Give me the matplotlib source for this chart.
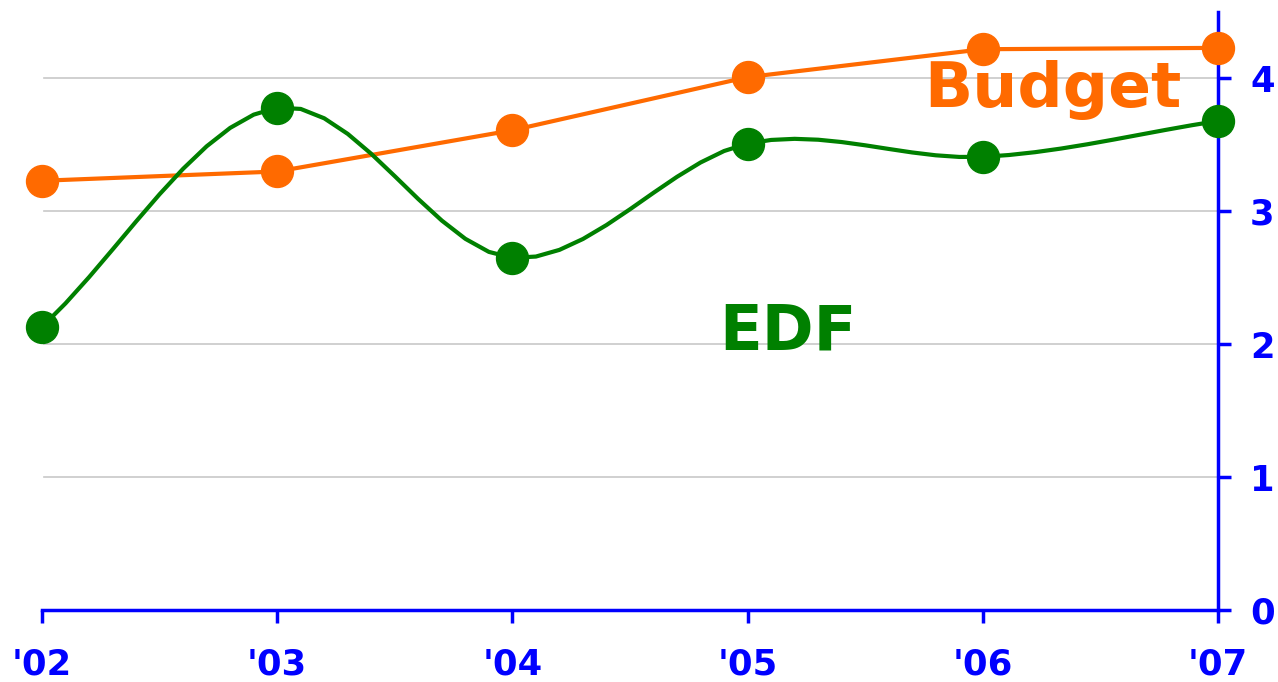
import numpy as np
import matplotlib
matplotlib.use("Agg")
import matplotlib.pyplot as plt

years = ["'02", "'03", "'04", "'05", "'06", "'07"]
budget = [3.23, 3.30, 3.61, 4.01, 4.22, 4.23]
edf = [2.13, 3.78, 2.65, 3.51, 3.41, 3.68]
yticks = [0, 1, 2, 3, 4]

BLUE = "#0000ff"
ORANGE = "#ff6a00"
GREEN = "#008000"


def catmull_rom(x, y, n=10):
    x = np.asarray(x, float)
    y = np.asarray(y, float)
    px = np.concatenate([[2 * x[0] - x[1]], x, [2 * x[-1] - x[-2]]])
    py = np.concatenate([[2 * y[0] - y[1]], y, [2 * y[-1] - y[-2]]])
    xs, ys = [], []
    for i in range(1, len(px) - 2):
        t = np.linspace(0, 1, n, endpoint=(i == len(px) - 3))
        for arr, out in ((px, xs), (py, ys)):
            p0, p1, p2, p3 = arr[i - 1], arr[i], arr[i + 1], arr[i + 2]
            out.extend(0.5 * ((2 * p1) + (-p0 + p2) * t
                              + (2 * p0 - 5 * p1 + 4 * p2 - p3) * t ** 2
                              + (-p0 + 3 * p1 - 3 * p2 + p3) * t ** 3))
    return np.array(xs), np.array(ys)


fig = plt.figure(figsize=(12.78, 6.82), dpi=100)
ax = fig.add_axes([42 / 1278, 72 / 682, 1176 / 1278, 598 / 682])
x = np.arange(len(years))

for yv in yticks[1:]:
    ax.axhline(yv, xmin=0.002, color="#c8c8c8", lw=1.2, zorder=1)

ax.plot(x, budget, color=ORANGE, lw=3, zorder=3, clip_on=False)
ax.plot(x, budget, "o", color=ORANGE, ms=23, zorder=4, clip_on=False)

sx, sy = catmull_rom(x, edf)
ax.plot(sx, sy, color=GREEN, lw=3, zorder=3, clip_on=False)
ax.plot(x, edf, "o", color=GREEN, ms=23, zorder=4, clip_on=False)

ax.set_xlim(0, len(years) - 1)
ax.set_ylim(0, 4.5)
ax.set_xticks(x)
ax.set_xticklabels(years)
ax.set_yticks(yticks)

ax.yaxis.tick_right()
for s in ("left", "top"):
    ax.spines[s].set_visible(False)
for s in ("right", "bottom"):
    ax.spines[s].set_color(BLUE)
    ax.spines[s].set_linewidth(2.5)

ax.tick_params(axis="both", colors=BLUE, width=2.5, length=9, direction="out",
               labelsize=25.5)
ax.tick_params(axis="x", pad=18)
ax.tick_params(axis="y", pad=14)
for lab in ax.get_xticklabels() + ax.get_yticklabels():
    lab.set_fontweight("bold")

ax.text(4.3, 3.91, "Budget", color=ORANGE, fontsize=45.5, fontweight="bold",
        ha="center", va="center", zorder=5)
ax.text(3.17, 2.09, "EDF", color=GREEN, fontsize=45, fontweight="bold",
        ha="center", va="center", zorder=5)

fig.savefig("out.png", dpi=100)
